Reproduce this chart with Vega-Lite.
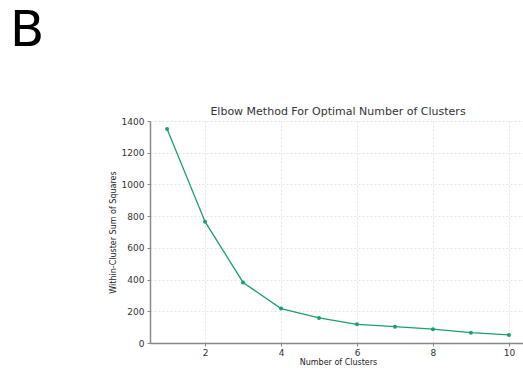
{
  "$schema": "https://vega.github.io/schema/vega-lite/v6.json",
  "padding": {"left": 10, "top": 6, "right": 0, "bottom": 0},
  "background": "white",
  "title": {
    "text": "B",
    "anchor": "start",
    "frame": "group",
    "fontSize": 50,
    "font": "DejaVu Sans",
    "fontWeight": "normal",
    "color": "black",
    "offset": 50,
    "dx": -140
  },
  "vconcat": [
    {
      "width": 376,
      "height": 222,
      "title": {
        "text": "Elbow Method For Optimal Number of Clusters",
        "fontSize": 11,
        "font": "DejaVu Sans",
        "fontWeight": "normal",
        "color": "#333333",
        "offset": 0
      },
      "data": {
        "values": [
          {"k": 1, "wcss": 1349},
          {"k": 2, "wcss": 765},
          {"k": 3, "wcss": 382},
          {"k": 4, "wcss": 217},
          {"k": 5, "wcss": 158},
          {"k": 6, "wcss": 118},
          {"k": 7, "wcss": 103},
          {"k": 8, "wcss": 87},
          {"k": 9, "wcss": 65},
          {"k": 10, "wcss": 51}
        ]
      },
      "encoding": {
        "x": {
          "field": "k",
          "type": "quantitative",
          "scale": {"domain": [0.55, 10.45], "nice": false, "zero": false},
          "axis": {"title": "Number of Clusters", "values": [2, 4, 6, 8, 10], "format": "d"}
        },
        "y": {
          "field": "wcss",
          "type": "quantitative",
          "scale": {"domain": [0, 1400], "nice": false},
          "axis": {"title": "Within-Cluster Sum of Squares", "values": [0, 200, 400, 600, 800, 1000, 1200, 1400], "format": "d"}
        }
      },
      "layer": [
        {"mark": {"type": "line", "color": "#1b9e77", "strokeWidth": 1.3}},
        {"mark": {"type": "point", "filled": true, "color": "#1b9e77", "size": 16, "opacity": 1}}
      ]
    }
  ],
  "config": {
    "view": {"stroke": null},
    "axis": {
      "labelFont": "DejaVu Sans",
      "titleFont": "DejaVu Sans",
      "labelFontSize": 9,
      "titleFontSize": 8,
      "titleFontWeight": "normal",
      "labelColor": "#333333",
      "titleColor": "#222222",
      "domainColor": "#888888",
      "domainWidth": 1.5,
      "tickColor": "#888888",
      "tickSize": 3,
      "gridColor": "#dddddd",
      "gridDash": [2, 2],
      "gridWidth": 0.8,
      "labelPadding": 3
    },
    "axisY": {"titlePadding": 4},
    "axisX": {"titlePadding": 1, "labelPadding": 2}
  }
}
